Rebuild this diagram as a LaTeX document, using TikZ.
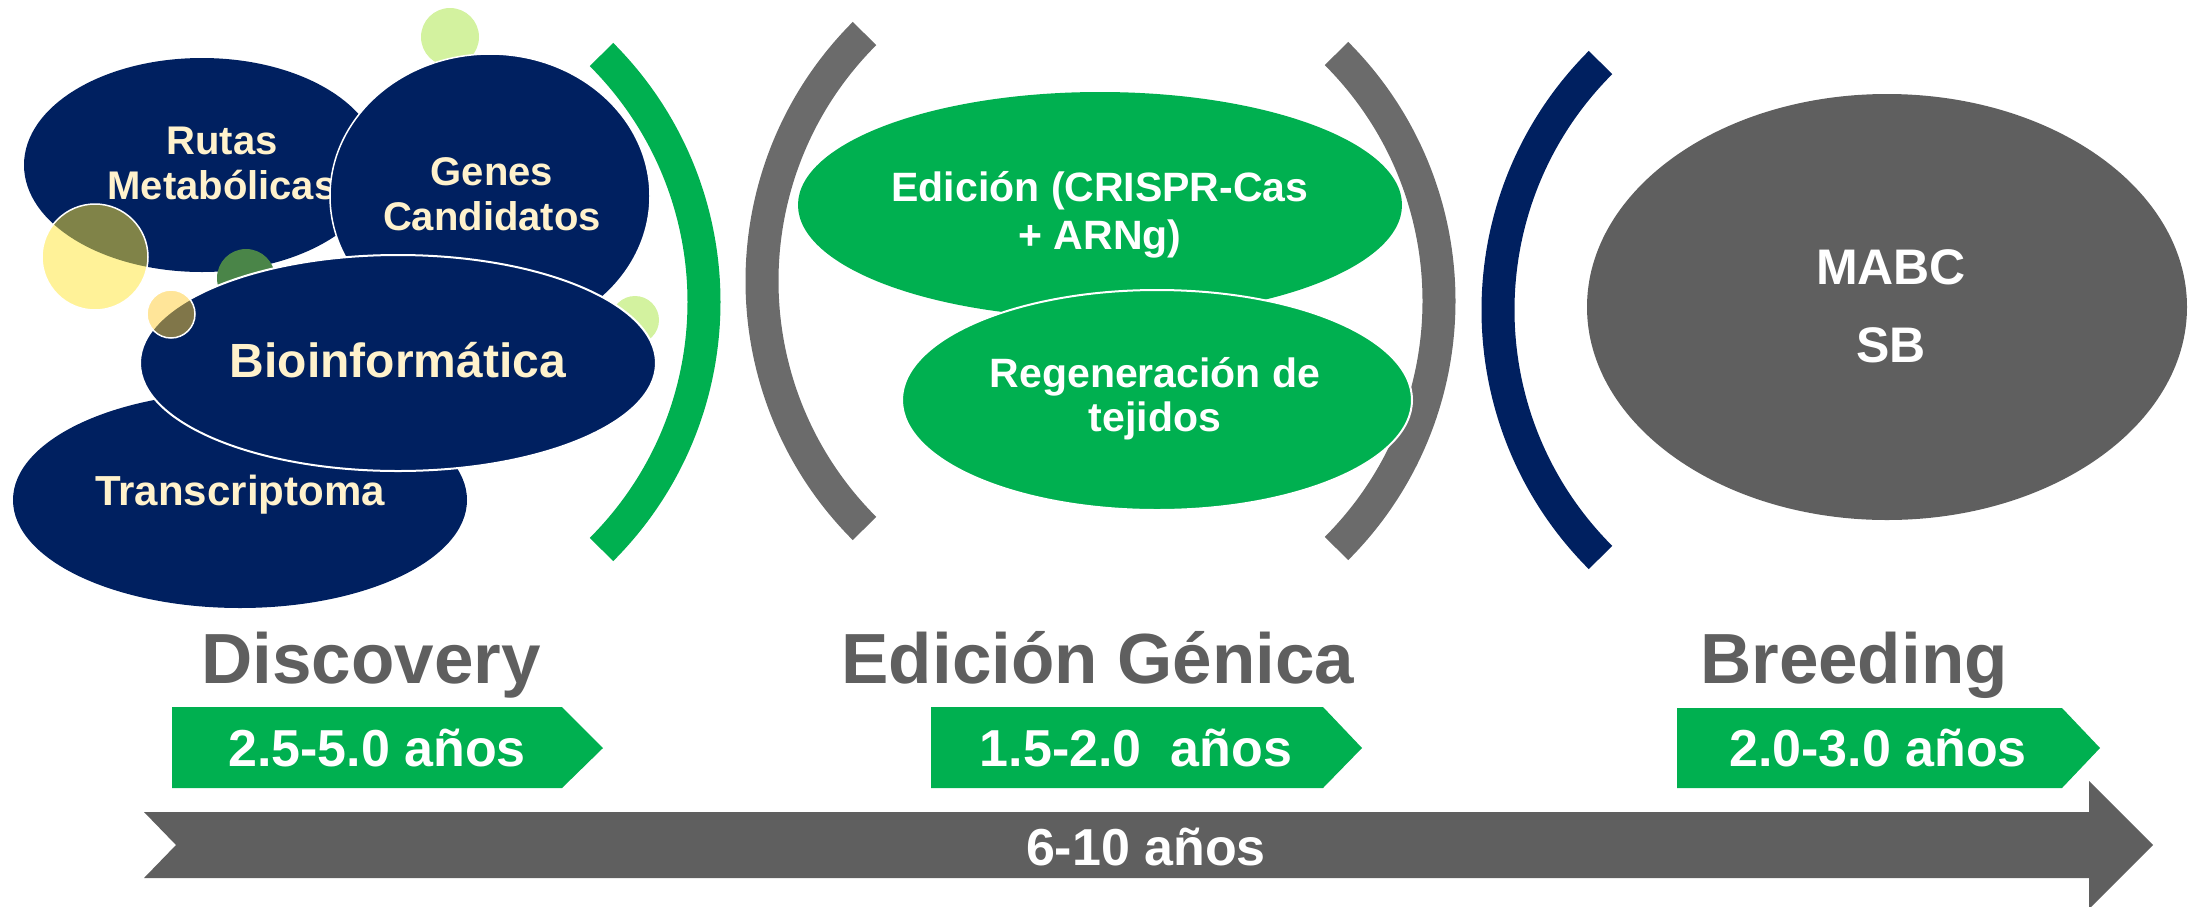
\documentclass[tikz,border=0pt]{standalone}
\usepackage{fontspec}
\setmainfont{Liberation Sans}
\usetikzlibrary{shapes.geometric, positioning}
\definecolor{navy}{HTML}{002060}
\definecolor{verde}{HTML}{00B050}
\definecolor{gris}{HTML}{5F5F5F}
\definecolor{grisclaro}{HTML}{6B6B6B}
\definecolor{crema}{HTML}{FFF2CC}
\definecolor{lima}{HTML}{D3F29F}
\definecolor{amarillo}{HTML}{FFE632}
\definecolor{ambar}{HTML}{FFCC33}
\definecolor{musgo}{HTML}{4A8548}
\newcommand{\setfs}[2]{\fontsize{#1}{#2}\selectfont}
\tikzset{
  blob/.style={ellipse, inner sep=0pt, fill=#1},
  burbuja/.style={circle, inner sep=0pt, fill=#1},
  etiq/.style={align=center, text=crema, font=\bfseries\setfs{40}{45}},
  etiqv/.style={align=center, text=white, font=\bfseries\setfs{41}{48}},
  titulo/.style={anchor=base, text=gris, font=\bfseries\setfs{71}{80}},
  plazo/.style={anchor=base, text=white, font=\bfseries\setfs{52}{60}},
  corchete/.style={line width=33pt}
}

\begin{document}
\begin{tikzpicture}[x=1pt, y=-1pt]
  \useasboundingbox (0,0) rectangle (2188,906);

  % Discovery
  \node[burbuja=lima, minimum size=58pt] (b1) at (450,37) {};
  \node[blob=navy, minimum width=356pt, minimum height=214pt] (rutas) at (202,165) {};
  \node[etiq] (rutastxt) at (222,163) {Rutas\\Metabólicas};
  \node[blob=navy, draw=white, line width=1.5pt, minimum width=320pt, minimum height=284pt] (genes) at (490,196) {};
  \node[etiq] (genestxt) at (492,194) {Genes\\Candidatos};
  \node[burbuja=amarillo, fill opacity=.5, draw=white, line width=1.5pt, minimum size=106pt] (b2) at (95,257) {};
  \node[burbuja=musgo, minimum size=58pt] (b3) at (246,278) {};
  \node[burbuja=lima, minimum size=48pt] (b4) at (635,320) {};
  \node[blob=navy, minimum width=454pt, minimum height=216pt] (transc) at (240,500) {};
  \node[etiq, font=\bfseries\setfs{42}{46}] (transctxt) at (240,495) {Transcriptoma};
  \node[blob=navy, draw=white, line width=2pt, minimum width=516pt, minimum height=216pt] (bioinf) at (398,363) {};
  \node[etiq, font=\bfseries\setfs{48}{52}] (bioinftxt) at (398,360) {Bioinformática};
  \node[burbuja=ambar, fill opacity=.5, draw=white, line width=1.5pt, minimum size=48pt] (b5) at (171,314) {};

  % corchetes
  \coordinate (c1) at (354,302);
  \coordinate (c2) at (1112,281);
  \coordinate (c3) at (1089,301);
  \coordinate (c4) at (1848,310);
  \draw[corchete, verde] ([shift={(-45:350)}]c1) arc[start angle=-45, end angle=45, radius=350];
  \draw[corchete, grisclaro] ([shift={(135:350)}]c2) arc[start angle=135, end angle=225, radius=350];
  \draw[corchete, grisclaro] ([shift={(-45:350)}]c3) arc[start angle=-45, end angle=45, radius=350];
  \draw[corchete, navy] ([shift={(135:350)}]c4) arc[start angle=135, end angle=225, radius=350];

  % Edicion genica
  \node[blob=verde, minimum width=604pt, minimum height=226pt] (edicion) at (1100,205) {};
  \node[etiqv] (ediciontxt) at (1100,215) {Edición (CRISPR-Cas\\+ ARNg)};
  \node[blob=verde, draw=white, line width=2pt, minimum width=510pt, minimum height=220pt] (regen) at (1157,400) {};
  \node[etiqv, font=\bfseries\setfs{41}{44}] (regentxt) at (1155,399) {Regeneración de\\tejidos};

  % Breeding
  \node[blob=gris, minimum width=600pt, minimum height=426pt] (mabc) at (1887,307) {};
  \node[etiqv, font=\bfseries\setfs{50}{78}] (mabctxt) at (1891,306) {MABC\\SB};

  % titulos
  \node[titulo] (t1) at (371,683) {Discovery};
  \node[titulo] (t2) at (1098,683) {Edición Génica};
  \node[titulo] (t3) at (1854,683) {Breeding};

  % plazos
  \fill[verde] (172,707) -- (562,707) -- (603,748) -- (562,788) -- (172,788) -- cycle;
  \fill[verde] (931,707) -- (1323,707) -- (1362,748) -- (1323,788) -- (931,788) -- cycle;
  \fill[verde] (1677,708) -- (2062,708) -- (2100,748) -- (2062,788) -- (1677,788) -- cycle;
  \node[plazo] (p1) at (377,766) {2.5-5.0 años};
  \node[plazo] (p2) at (1136,766) {1.5-2.0~~años};
  \node[plazo] (p3) at (1878,766) {2.0-3.0 años};

  % total
  \fill[gris] (144,812) -- (2089,812) -- (2089,781) -- (2153,845) -- (2089,909) -- (2089,878) -- (144,878) -- (176,845) -- cycle;
  \node[plazo] (total) at (1146,865) {6-10 años};
\end{tikzpicture}
\end{document}
